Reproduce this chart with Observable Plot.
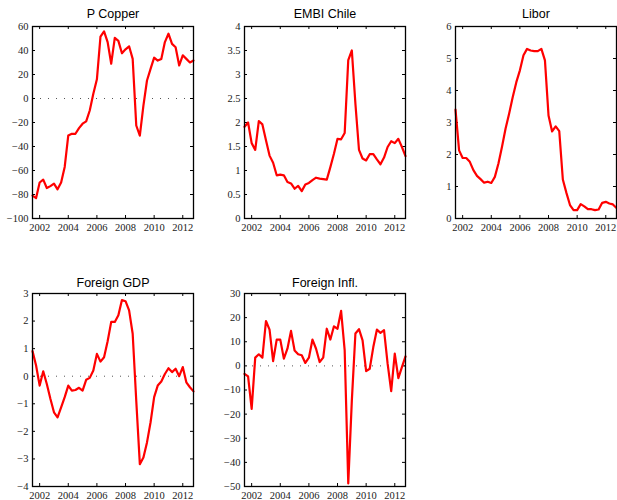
<!DOCTYPE html>
<html>
<head>
<meta charset="utf-8">
<script src="https://cdn.jsdelivr.net/npm/d3@7"></script>
<script src="https://cdn.jsdelivr.net/npm/@observablehq/plot@0.6"></script>
<style>
  html, body { margin: 0; padding: 0; background: #fff; }
  #wrap { position: relative; width: 617px; height: 500px; overflow: hidden; }
  .panel { position: absolute; }
  .panel svg g[aria-label="y-axis tick label"] text,
  .panel svg g[aria-label="x-axis tick label"] text { font-family: "Liberation Serif", "DejaVu Serif", serif; }
</style>
</head>
<body>
<div id="wrap"></div>
<script>
// Quarterly time index (2001Q3 .. 2012Q4)
const quarters = [2001.5, 2001.75, 2002, 2002.25, 2002.5, 2002.75, 2003, 2003.25, 2003.5, 2003.75,
  2004, 2004.25, 2004.5, 2004.75, 2005, 2005.25, 2005.5, 2005.75, 2006, 2006.25,
  2006.5, 2006.75, 2007, 2007.25, 2007.5, 2007.75, 2008, 2008.25, 2008.5, 2008.75,
  2009, 2009.25, 2009.5, 2009.75, 2010, 2010.25, 2010.5, 2010.75, 2011, 2011.25,
  2011.5, 2011.75, 2012, 2012.25, 2012.5, 2012.75];

const xTicks = [2002, 2004, 2006, 2008, 2010, 2012];

const pCopper = [-81, -83, -70, -67.6, -74.6, -73, -71, -75.7, -70, -57,
  -30.8, -29.4, -29.4, -24.7, -21, -19, -10, 4, 16, 51.6,
  56, 47, 29, 50.5, 48, 37.7, 41, 43.5, 33, -22.5,
  -31, -6, 15, 24.7, 34, 31.6, 33, 47, 54, 45.5,
  42.7, 27.5, 36, 33, 30, 31.6];

const embiChile = [1.91, 2.0, 1.57, 1.43, 2.03, 1.96, 1.63, 1.31, 1.16, 0.9,
  0.915, 0.9, 0.76, 0.73, 0.62, 0.68, 0.57, 0.71, 0.74, 0.8,
  0.85, 0.83, 0.82, 0.81, 1.07, 1.35, 1.66, 1.65, 1.78, 3.3,
  3.5, 2.39, 1.43, 1.25, 1.21, 1.34, 1.34, 1.23, 1.13, 1.27,
  1.49, 1.61, 1.57, 1.66, 1.49, 1.3];

const libor = [3.4, 2.13, 1.89, 1.89, 1.77, 1.51, 1.33, 1.23, 1.12, 1.15,
  1.11, 1.3, 1.72, 2.24, 2.81, 3.28, 3.8, 4.26, 4.63, 5.1,
  5.3, 5.25, 5.23, 5.23, 5.3, 4.94, 3.22, 2.72, 2.88, 2.73,
  1.22, 0.8, 0.42, 0.26, 0.26, 0.45, 0.38, 0.29, 0.29, 0.26,
  0.28, 0.49, 0.52, 0.47, 0.44, 0.33];

const foreignGDP = [0.91, 0.39, -0.34, 0.18, -0.28, -0.82, -1.31, -1.49, -1.13, -0.76,
  -0.34, -0.52, -0.5, -0.42, -0.52, -0.13, -0.06, 0.21, 0.81, 0.53,
  0.69, 1.27, 1.97, 1.97, 2.21, 2.76, 2.72, 2.39, 1.54, -0.89,
  -3.19, -2.95, -2.4, -1.67, -0.76, -0.34, -0.19, 0.08, 0.29, 0.15,
  0.27, 0.0, 0.33, -0.22, -0.4, -0.55];

const foreignInfl = [-3.3, -4.4, -17.8, 3.4, 4.8, 3.4, 18.6, 15, 2, 10.9,
  10.9, 3, 7.1, 14.5, 6.4, 4.8, 4.4, 1.2, 3.4, 10.9,
  7.1, 1.6, 3.4, 15.4, 10.9, 16.4, 15.4, 22.8, 6.4, -48.7,
  -14.4, 13.4, 15.2, 10.6, -2.2, -1.2, 7.8, 15, 13.7, 14.8,
  0.9, -10.5, 5.1, -5.1, -0.5, 3.9];

const titles = ["P Copper", "EMBI Chile", "Libor", "Foreign GDP", "Foreign Infl."];
const series = [pCopper, embiChile, libor, foreignGDP, foreignInfl];
const yDomains = [[-100, 60], [0, 4], [0, 6], [-4, 3], [-50, 30]];
const yTickLists = [
  [-100, -80, -60, -40, -20, 0, 20, 40, 60],
  [0, 0.5, 1, 1.5, 2, 2.5, 3, 3.5, 4],
  [0, 1, 2, 3, 4, 5, 6],
  [-4, -3, -2, -1, 0, 1, 2, 3],
  [-50, -40, -30, -20, -10, 0, 10, 20, 30]
];
const zeroLine = [true, false, false, true, true];

// layout of each panel (SVG placement and margins)
const layout = [
  {left: 0,   top: 0,   width: 205, height: 250, ml: 32, mr: 12, mt: 26, mb: 32, titleY: 13},
  {left: 204, top: 0,   width: 205, height: 250, ml: 40, mr: 4,  mt: 26, mb: 32, titleY: 13},
  {left: 416, top: 0,   width: 201, height: 250, ml: 39, mr: 1,  mt: 26, mb: 32, titleY: 13},
  {left: 0,   top: 250, width: 205, height: 250, ml: 32, mr: 12, mt: 43, mb: 14, titleY: 32},
  {left: 204, top: 250, width: 205, height: 250, ml: 40, mr: 4,  mt: 43, mb: 14, titleY: 32}
];

const wrap = document.getElementById("wrap");
const tickLen = 3;
const serif = "Liberation Serif";

titles.forEach((title, k) => {
  const L = layout[k];
  const data = quarters.map((q, i) => ({t: q, v: series[k][i]}));
  const plotW = L.width - L.ml - L.mr;
  const plotH = L.height - L.mt - L.mb;
  const yt = yTickLists[k];
  const marks = [];
  if (zeroLine[k]) {
    marks.push(Plot.ruleY([0], {stroke: "#555", strokeWidth: 1, strokeDasharray: "1,7"}));
  }
  // inward ticks on all four sides
  marks.push(Plot.tickY(yt, {y: d => d, stroke: "black", strokeWidth: 1, insetRight: plotW - tickLen}));
  marks.push(Plot.tickY(yt, {y: d => d, stroke: "black", strokeWidth: 1, insetLeft: plotW - tickLen}));
  marks.push(Plot.tickX(xTicks, {x: d => d, stroke: "black", strokeWidth: 1, insetTop: plotH - tickLen}));
  marks.push(Plot.tickX(xTicks, {x: d => d, stroke: "black", strokeWidth: 1, insetBottom: plotH - tickLen}));
  marks.push(Plot.axisY(yt, {tickSize: 0, tickPadding: 4, label: null, fontSize: 10.5,
    fontFamily: serif, fill: "#222", tickFormat: d3.format("")}));
  marks.push(Plot.axisX(xTicks, {tickSize: 0, tickPadding: 5, label: null, fontSize: 10.5,
    fontFamily: serif, fill: "#222", tickFormat: d => String(d)}));
  marks.push(Plot.line(data, {x: "t", y: "v", stroke: "#ff0000", strokeWidth: 2.2, strokeLinejoin: "round"}));
  marks.push(Plot.frame({stroke: "black", strokeWidth: 1.3}));
  marks.push(Plot.text([title], {frameAnchor: "top", dy: L.titleY - L.mt, lineAnchor: "middle",
    fontSize: 12.5, fontFamily: "Liberation Sans", fill: "#000"}));

  const chart = Plot.plot({
    width: L.width,
    height: L.height,
    marginLeft: L.ml,
    marginRight: L.mr,
    marginTop: L.mt,
    marginBottom: L.mb,
    style: {background: "transparent", overflow: "visible", fontFamily: serif},
    x: {domain: [2001.5, 2012.75]},
    y: {domain: yDomains[k]},
    marks
  });
  const div = document.createElement("div");
  div.className = "panel";
  div.style.left = L.left + "px";
  div.style.top = L.top + "px";
  div.appendChild(chart);
  wrap.appendChild(div);
});
</script>
</body>
</html>
